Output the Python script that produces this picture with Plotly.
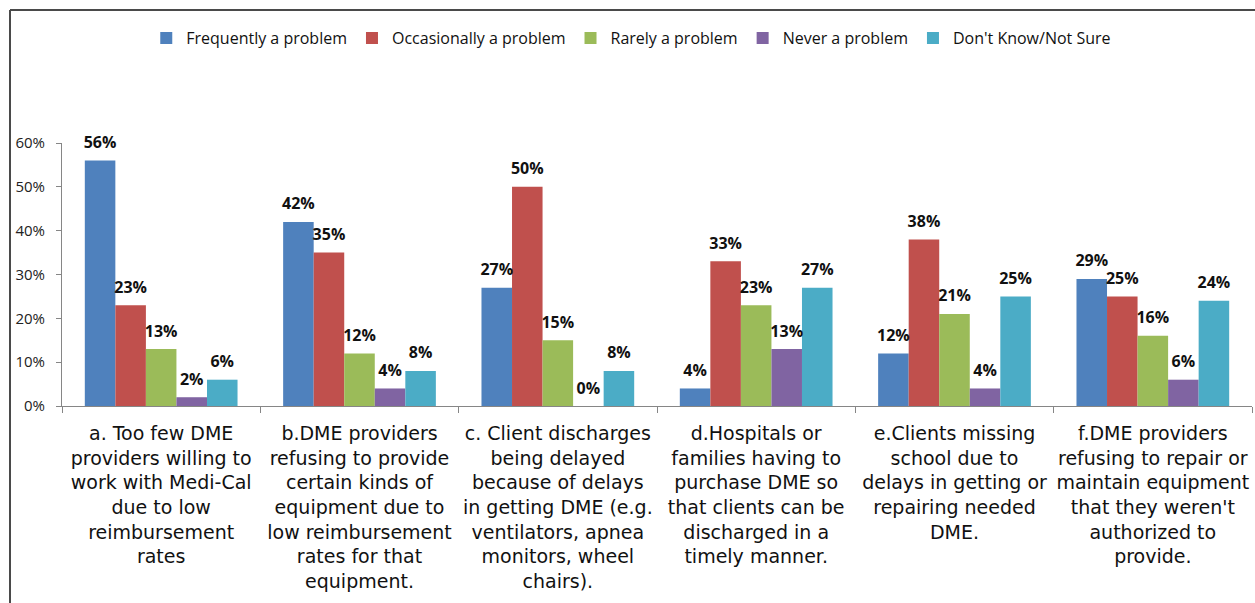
import plotly.graph_objects as go

# Survey items (category axis labels)
categories = [
    "a. Too few DME<br>providers willing to<br>work with Medi-Cal<br>due to low<br>reimbursement<br>rates",
    "b.DME providers<br>refusing to provide<br>certain kinds of<br>equipment due to<br>low reimbursement<br>rates for that<br>equipment.",
    "c. Client discharges<br>being delayed<br>because of delays<br>in getting DME (e.g.<br>ventilators, apnea<br>monitors, wheel<br>chairs).",
    "d.Hospitals or<br>families having to<br>purchase DME so<br>that clients can be<br>discharged in a<br>timely manner.",
    "e.Clients missing<br>school due to<br>delays in getting or<br>repairing needed<br>DME.",
    "f.DME providers<br>refusing to repair or<br>maintain equipment<br>that they weren't<br>authorized to<br>provide.",
]

series_names = [
    "Frequently a problem",
    "Occasionally a problem",
    "Rarely a problem",
    "Never a problem",
    "Don't Know/Not Sure",
]

# Percent of respondents per answer
frequently = [56, 42, 27, 4, 12, 29]
occasionally = [23, 35, 50, 33, 38, 25]
rarely = [13, 12, 15, 23, 21, 16]
never = [2, 4, 0, 13, 4, 6]
dont_know = [6, 8, 8, 27, 25, 24]

y_ticks = [0, 10, 20, 30, 40, 50, 60]

series_values = [frequently, occasionally, rarely, never, dont_know]
colors = ["#4F81BD", "#C0504D", "#9BBB59", "#8064A2", "#4BACC6"]

W, H = 1255, 603
ML, MR, MT, MB = 62, 3, 143, 197
UI_FONT = "Open Sans, Noto Sans, sans-serif"

fig = go.Figure()

for i, (name, vals, col) in enumerate(zip(series_names, series_values, colors)):
    fig.add_trace(go.Bar(
        name=name, x=categories, y=vals, marker_color=col,
        marker_line_width=0, offsetgroup=str(i),
    ))

# Value labels, grouped the same way as the bars
for i, (name, vals) in enumerate(zip(series_names, series_values)):
    fig.add_trace(go.Scatter(
        x=categories, y=vals, mode="markers+text",
        marker=dict(size=12, opacity=0), offsetgroup=str(i),
        text=[f"<b>{v}%</b>" for v in vals], textposition="top center",
        textfont=dict(family=UI_FONT, size=16, color="#111"),
        showlegend=False, hoverinfo="skip", cliponaxis=False,
    ))

pw = W - ML - MR
ph = H - MT - MB


def px_x(p):
    return (p - ML) / pw


def px_y(p):
    return (H - MB - p) / ph


# Outer chart frame (left and top edges visible)
fig.add_shape(type="line", xref="paper", yref="paper",
              x0=px_x(10), x1=px_x(10), y0=px_y(10), y1=px_y(640),
              line=dict(color="#4a4a4a", width=2))
fig.add_shape(type="line", xref="paper", yref="paper",
              x0=px_x(10), x1=px_x(1300), y0=px_y(10), y1=px_y(10),
              line=dict(color="#4a4a4a", width=2))

fig.update_layout(
    width=W, height=H,
    margin=dict(l=ML, r=MR, t=MT, b=MB, pad=0),
    paper_bgcolor="white", plot_bgcolor="white",
    barmode="group", bargap=0.23, bargroupgap=0,
    scattermode="group", scattergap=0.23,
    showlegend=True,
    legend=dict(
        orientation="h", xref="container", yref="container",
        x=0.503, xanchor="center", y=1 - 21 / H, yanchor="top",
        font=dict(family=UI_FONT, size=16, color="#111"),
        itemclick=False, traceorder="normal",
    ),
    xaxis=dict(
        type="category", showgrid=False, showline=True, linecolor="#868686",
        linewidth=1, ticks="outside", tickson="boundaries", ticklen=6,
        tickcolor="#868686", ticklabelstandoff=10,
        tickfont=dict(family="DejaVu Sans, Arial, sans-serif", size=19, color="#111"),
        tickangle=0, automargin=False,
    ),
    yaxis=dict(
        range=[0, 60], tickmode="array", tickvals=y_ticks,
        ticktext=[f"{v}%" for v in y_ticks],
        showgrid=False, zeroline=False, showline=True, linecolor="#868686",
        linewidth=1, ticks="outside", ticklen=5, tickcolor="#868686",
        ticklabelstandoff=8,
        tickfont=dict(family=UI_FONT, size=15, color="#222"),
        automargin=False,
    ),
)

fig.write_html("out.html")
